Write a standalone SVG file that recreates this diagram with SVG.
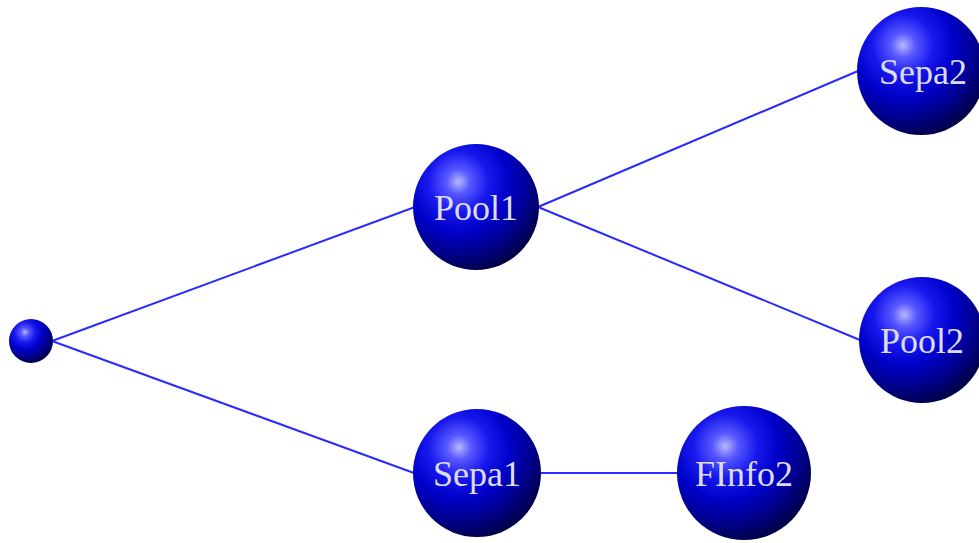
<svg xmlns="http://www.w3.org/2000/svg" width="979" height="543" viewBox="0 0 979 543">
<defs>
<radialGradient id="ball" cx="0.36" cy="0.3" r="0.8" fx="0.36" fy="0.3">
<stop offset="0" stop-color="#b8b8ff"/>
<stop offset="0.12" stop-color="#5858ff"/>
<stop offset="0.3" stop-color="#1818ee"/>
<stop offset="0.5" stop-color="#0000c8"/>
<stop offset="0.7" stop-color="#000090"/>
<stop offset="0.86" stop-color="#00005a"/>
<stop offset="1" stop-color="#000030"/>
</radialGradient>
<style>
.edge{stroke:#2a2aff;stroke-width:2;fill:none}
.ball{fill:url(#ball)}
.lbl{font-family:"Liberation Serif","DejaVu Serif",serif;font-size:36px;fill:#dcdcee;text-anchor:middle}
</style>
</defs>
<g id="connectors">
<line class="edge" x1="52" y1="341" x2="415" y2="207"/>
<line class="edge" x1="52" y1="341" x2="414" y2="473"/>
<line class="edge" x1="538" y1="207" x2="858" y2="71"/>
<line class="edge" x1="538" y1="207" x2="860" y2="340"/>
<line class="edge" x1="540" y1="473" x2="677" y2="473"/>
</g>
<g id="root"><circle class="ball" cx="31" cy="341" r="22"/></g>
<g id="pool1"><circle class="ball" cx="476" cy="207" r="63"/><text class="lbl" x="476" y="220">Pool1</text></g>
<g id="sepa1"><circle class="ball" cx="477" cy="473" r="64"/><text class="lbl" x="477" y="486">Sepa1</text></g>
<g id="finfo2"><circle class="ball" cx="744" cy="473" r="67"/><text class="lbl" x="744" y="486">FInfo2</text></g>
<g id="sepa2"><circle class="ball" cx="921" cy="71" r="64"/><text class="lbl" x="923" y="84">Sepa2</text></g>
<g id="pool2"><circle class="ball" cx="922" cy="340" r="63"/><text class="lbl" x="922" y="353">Pool2</text></g>
</svg>
